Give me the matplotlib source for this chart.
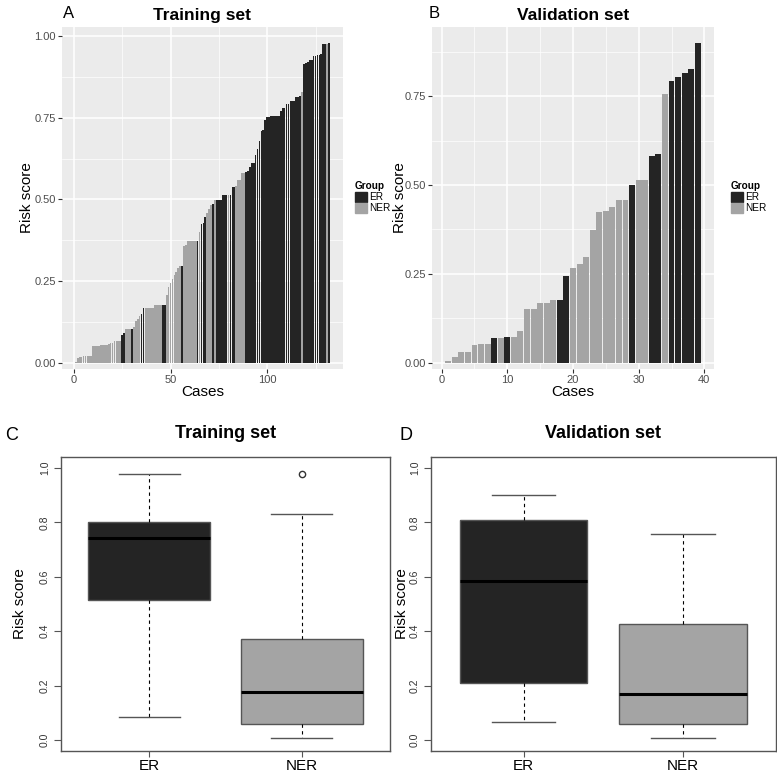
import matplotlib
matplotlib.use("Agg")
import matplotlib.pyplot as plt
from matplotlib.patches import Patch
from matplotlib.ticker import MultipleLocator

plt.rcParams["font.family"] = ["Liberation Sans", "DejaVu Sans"]

# ---- data ----
# panel A: training set, risk score per case (sorted) and group
train_risk = [
    0.004, 0.015, 0.018, 0.019, 0.020, 0.020, 0.021, 0.021, 0.022, 0.050,
    0.051, 0.052, 0.053, 0.054, 0.055, 0.055, 0.056, 0.058, 0.060, 0.062,
    0.066, 0.066, 0.067, 0.067, 0.085, 0.090, 0.103, 0.103, 0.103, 0.104,
    0.110, 0.128, 0.135, 0.143, 0.150, 0.168, 0.168, 0.168, 0.168, 0.168,
    0.168, 0.176, 0.176, 0.176, 0.176, 0.177, 0.177, 0.207, 0.233, 0.243,
    0.258, 0.270, 0.279, 0.290, 0.296, 0.297, 0.358, 0.360, 0.372, 0.372,
    0.372, 0.372, 0.372, 0.372, 0.400, 0.424, 0.427, 0.445, 0.459, 0.472,
    0.483, 0.486, 0.498, 0.498, 0.498, 0.498, 0.515, 0.515, 0.515, 0.515,
    0.515, 0.537, 0.537, 0.540, 0.559, 0.560, 0.580, 0.582, 0.585, 0.586,
    0.600, 0.610, 0.612, 0.636, 0.655, 0.680, 0.710, 0.711, 0.743, 0.753,
    0.753, 0.755, 0.755, 0.755, 0.755, 0.755, 0.771, 0.780, 0.781, 0.792,
    0.793, 0.800, 0.802, 0.802, 0.812, 0.812, 0.815, 0.830, 0.915, 0.918,
    0.920, 0.927, 0.927, 0.939, 0.940, 0.943, 0.943, 0.944, 0.976, 0.976,
    0.977, 0.980,
]
train_group = list(
    "NNNNNNNNNN" "NNNNNNNNNN" "NNNNEENNNE" "NNNNEENNNN"
    "NNNNNEENNN" "NNNNNENNNN" "NNNENEEENN" "NENEEEEEEN"
    "EEENNNNNEE" "EEEEEEEEEE" "EEEEEEEEEE" "EEEEEEENEE"
    "EEEEEEEEEE" "NE"
)

# panel B: validation set
val_risk = [
    0.005, 0.017, 0.030, 0.030, 0.050, 0.053, 0.053, 0.068, 0.068, 0.073,
    0.073, 0.090, 0.152, 0.152, 0.168, 0.168, 0.177, 0.177, 0.244, 0.267,
    0.279, 0.298, 0.373, 0.424, 0.427, 0.438, 0.457, 0.457, 0.500, 0.515,
    0.515, 0.583, 0.587, 0.757, 0.793, 0.803, 0.815, 0.828, 0.899,
]
val_group = list(
    "NNNNNNNENE" "NNNNNNNEEN" "NNNNNNNNEN" "NEENEEEEE"
)

# panels C/D: boxplot summaries (ER, NER)
box_labels = ["ER", "NER"]
train_med = [0.744, 0.177]
train_q1 = [0.515, 0.060]
train_q3 = [0.802, 0.372]
train_lo = [0.084, 0.006]
train_hi = [0.977, 0.829]
train_out = [[], [0.977]]

val_med = [0.585, 0.169]
val_q1 = [0.210, 0.060]
val_q3 = [0.808, 0.425]
val_lo = [0.067, 0.006]
val_hi = [0.900, 0.756]
val_out = [[], []]

ER_COL = "#242424"
NER_COL = "#a4a4a4"
COLS = {"E": ER_COL, "N": NER_COL}


def bar_panel(fig, rect, risk, group, title, xmajor, ylims, letter, letter_x,
              legend_x, ylpad):
    ax = fig.add_axes(rect)
    n = len(risk)
    xs = list(range(1, n + 1))
    ax.set_facecolor("#ebebeb")
    ax.bar(xs, risk, width=0.9, color=[COLS[g] for g in group], zorder=3)
    pad = 0.05 * (n - 0.1)
    ax.set_xlim(0.55 - pad, n + 0.45 + pad)
    ax.set_ylim(*ylims)
    ax.xaxis.set_major_locator(MultipleLocator(xmajor))
    ax.xaxis.set_minor_locator(MultipleLocator(xmajor / 2))
    ax.yaxis.set_major_locator(MultipleLocator(0.25))
    ax.yaxis.set_minor_locator(MultipleLocator(0.125))
    ax.yaxis.set_major_formatter(plt.FuncFormatter(lambda v, p: f"{v:.2f}"))
    ax.grid(which="major", color="white", lw=1.1, zorder=0)
    ax.grid(which="minor", color="white", lw=0.5, zorder=0)
    ax.tick_params(which="minor", length=0)
    ax.tick_params(which="major", length=3, color="#333333", labelsize=8,
                   labelcolor="#4d4d4d", pad=1.5)
    for s in ax.spines.values():
        s.set_visible(False)
    ax.set_xlabel("Cases", fontsize=11, labelpad=0)
    ax.set_ylabel("Risk score", fontsize=11, labelpad=ylpad)
    ax.set_title(title, fontsize=12.5, fontweight="bold", pad=5)
    fig.text(letter_x, 0.983, letter, fontsize=12, ha="left", va="center")
    handles = [Patch(color=ER_COL, label="ER"), Patch(color=NER_COL, label="NER")]
    fig.legend(handles=handles, title="Group", loc="center left",
               bbox_to_anchor=(legend_x, 0.745), frameon=False, fontsize=7.2,
               title_fontproperties={"weight": "bold", "size": 7.2},
               handlelength=1.2, handleheight=1.2, handletextpad=0.25,
               labelspacing=0.05, borderpad=0, alignment="left")
    return ax


def box_panel(fig, rect, med, q1, q3, lo, hi, out, title, letter, letter_x, ylpad):
    ax = fig.add_axes(rect)
    stats = []
    for i in range(len(box_labels)):
        stats.append({"med": med[i], "q1": q1[i], "q3": q3[i],
                      "whislo": lo[i], "whishi": hi[i], "fliers": out[i]})
    bp = ax.bxp(stats, positions=[1, 2], widths=0.8, patch_artist=True,
                boxprops={"edgecolor": "#555555", "linewidth": 1},
                medianprops={"color": "black", "linewidth": 2.2},
                whiskerprops={"color": "black", "linestyle": (0, (3, 3)),
                              "linewidth": 0.8},
                capprops={"color": "#555555", "linewidth": 1},
                capwidths=0.4,
                flierprops={"marker": "o", "markerfacecolor": "none",
                            "markeredgecolor": "#333333", "markersize": 4.5})
    for patch, c in zip(bp["boxes"], [ER_COL, NER_COL]):
        patch.set_facecolor(c)
    ax.set_xlim(0.42, 2.58)
    ax.set_ylim(-0.04, 1.04)
    ax.set_xticks([1, 2])
    ax.set_xticklabels(box_labels, fontsize=11)
    yt = [0, 0.2, 0.4, 0.6, 0.8, 1.0]
    ax.set_yticks(yt)
    ax.set_yticklabels([f"{v:.1f}" for v in yt], rotation=90, va="center",
                       fontsize=7.5, color="#333333")
    ax.tick_params(axis="y", length=5, color="#555555", pad=3)
    ax.tick_params(axis="x", length=4, color="#555555", pad=1.5)
    for s in ax.spines.values():
        s.set_color("#555555")
        s.set_linewidth(1)
    ax.set_ylabel("Risk score", fontsize=11, labelpad=ylpad)
    ax.set_title(title, fontsize=13, fontweight="bold", pad=13.5)
    fig.text(letter_x, 0.437, letter, fontsize=13, ha="left", va="center")
    return ax


def main():
    fig = plt.figure(figsize=(7.77, 7.73), dpi=100)
    bar_panel(fig, [0.080, 0.5226, 0.361, 0.4424], train_risk, train_group,
              "Training set", 50, (-0.019, 1.0275), "A", 0.081, 0.450, 0)
    bar_panel(fig, [0.5566, 0.5226, 0.3617, 0.4424], val_risk, val_group,
              "Validation set", 10, (-0.018, 0.945), "B", 0.551, 0.934, -1.5)
    box_panel(fig, [0.0785, 0.0285, 0.4234, 0.3803], train_med, train_q1,
              train_q3, train_lo, train_hi, train_out, "Training set", "C",
              0.006, 9)
    box_panel(fig, [0.5547, 0.0285, 0.4434, 0.3803], val_med, val_q1,
              val_q3, val_lo, val_hi, val_out, "Validation set", "D",
              0.514, 1)
    fig.savefig("out.png", dpi=100)


if __name__ == "__main__":
    main()
